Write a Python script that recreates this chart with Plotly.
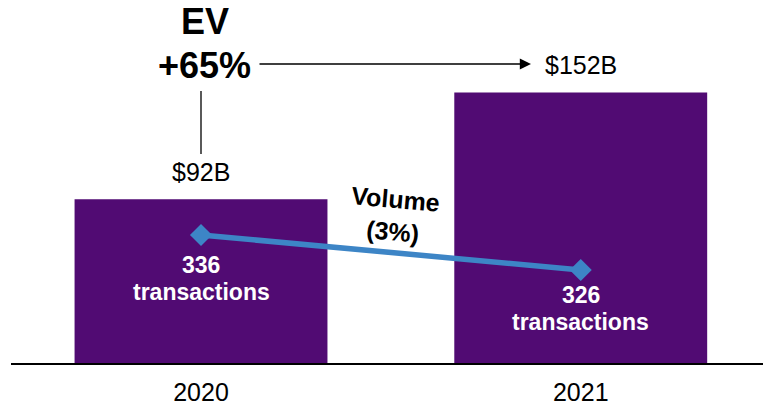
import plotly.graph_objects as go

# ---- data ----
years = ["2020", "2021"]
ev_billions = [92, 152]
ev_labels = ["$92B", "$152B"]
volumes = [336, 326]
volume_counts = ["336", "326"]
volume_unit = "transactions"
ev_title = "EV"
ev_growth = "+65%"
volume_title = "Volume"
volume_change = "(3%)"

PURPLE = "#510B73"
BLUE = "#3D85C6"
FONT = "Liberation Sans, Arial, Helvetica, sans-serif"

W, H = 763, 406
ML, MR, MT, MB = 11, 0, 0, 43
PW = W - ML - MR
PH = H - MT - MB


def px(x):
    return (x - ML) / PW


def py(y):
    return (H - MB - y) / PH


fig = go.Figure()
fig.add_trace(go.Bar(
    x=years, y=ev_billions, width=0.666,
    marker=dict(color=PURPLE, line_width=0),
    yaxis="y", hoverinfo="skip", showlegend=False,
))
fig.add_trace(go.Scatter(
    x=years, y=volumes, mode="lines+markers", yaxis="y2",
    line=dict(color=BLUE, width=5.5),
    marker=dict(symbol="diamond", size=17, color=BLUE),
    showlegend=False, hoverinfo="skip",
))

ann = []
# EV data labels above bars
for i, (v, lab) in enumerate(zip(ev_billions, ev_labels)):
    ann.append(dict(x=i, y=v, xref="x", yref="y", text=lab, showarrow=False,
                    xanchor="center", yanchor="middle",
                    yshift=27, font=dict(size=25, color="black", family=FONT)))
# volume labels inside bars
shifts = [(-30, -57), (-25, -52)]
for i, (v, cnt, (s1, s2)) in enumerate(zip(volumes, volume_counts, shifts)):
    ann.append(dict(x=i, y=v, xref="x", yref="y2", text="<b>%s</b>" % cnt, showarrow=False,
                    xanchor="center", yanchor="middle",
                    yshift=s1, font=dict(size=23, color="white", family=FONT)))
    ann.append(dict(x=i, y=v, xref="x", yref="y2", text="<b>%s</b>" % volume_unit, showarrow=False,
                    xanchor="center", yanchor="middle",
                    yshift=s2, font=dict(size=23, color="white", family=FONT)))

ann.append(dict(x=px(395), y=py(215), xref="paper", yref="paper",
                xanchor="center", yanchor="middle",
                text="<b>%s<br>%s</b>" % (volume_title, volume_change), showarrow=False,
                textangle=5, font=dict(size=25, color="black", family=FONT)))
ann.append(dict(x=px(205), y=py(22), xref="paper", yref="paper", text="<b>%s</b>" % ev_title,
                xanchor="center", yanchor="middle",
                showarrow=False, font=dict(size=36, color="black", family=FONT)))
ann.append(dict(x=px(204), y=py(66), xref="paper", yref="paper", text="<b>%s</b>" % ev_growth,
                xanchor="center", yanchor="middle",
                showarrow=False, font=dict(size=36, color="black", family=FONT)))
# growth arrow
ann.append(dict(x=px(531), y=py(64), xref="paper", yref="paper", text="",
                showarrow=True, axref="pixel", ayref="pixel", ax=-273, ay=0,
                arrowhead=2, arrowsize=1.4, arrowwidth=1.6, arrowcolor="black", standoff=0))

shapes = [dict(type="line", xref="paper", yref="paper", x0=px(201), x1=px(201),
               y0=py(91), y1=py(154), line=dict(color="black", width=1.3))]

fig.update_layout(
    width=W, height=H,
    margin=dict(l=ML, r=MR, t=MT, b=MB, pad=0, autoexpand=False),
    paper_bgcolor="white", plot_bgcolor="white",
    font=dict(family=FONT, color="black"),
    xaxis=dict(type="category", range=[-0.5004, 1.480], showline=True, linecolor="black",
               linewidth=2, showgrid=False, zeroline=False, ticks="", automargin=False,
               tickfont=dict(size=25, color="black", family=FONT), ticklabelstandoff=6),
    yaxis=dict(range=[0, 203.9], visible=False, showgrid=False, zeroline=False,
               automargin=False),
    yaxis2=dict(range=[299.43, 403.14], overlaying="y", visible=False, showgrid=False,
                zeroline=False, automargin=False),
    annotations=ann,
    shapes=shapes,
    showlegend=False,
)

fig.write_html(
    "out.html",
    config={"displayModeBar": False},
    post_script="document.body.style.margin='0';document.body.style.overflow='hidden';",
)
